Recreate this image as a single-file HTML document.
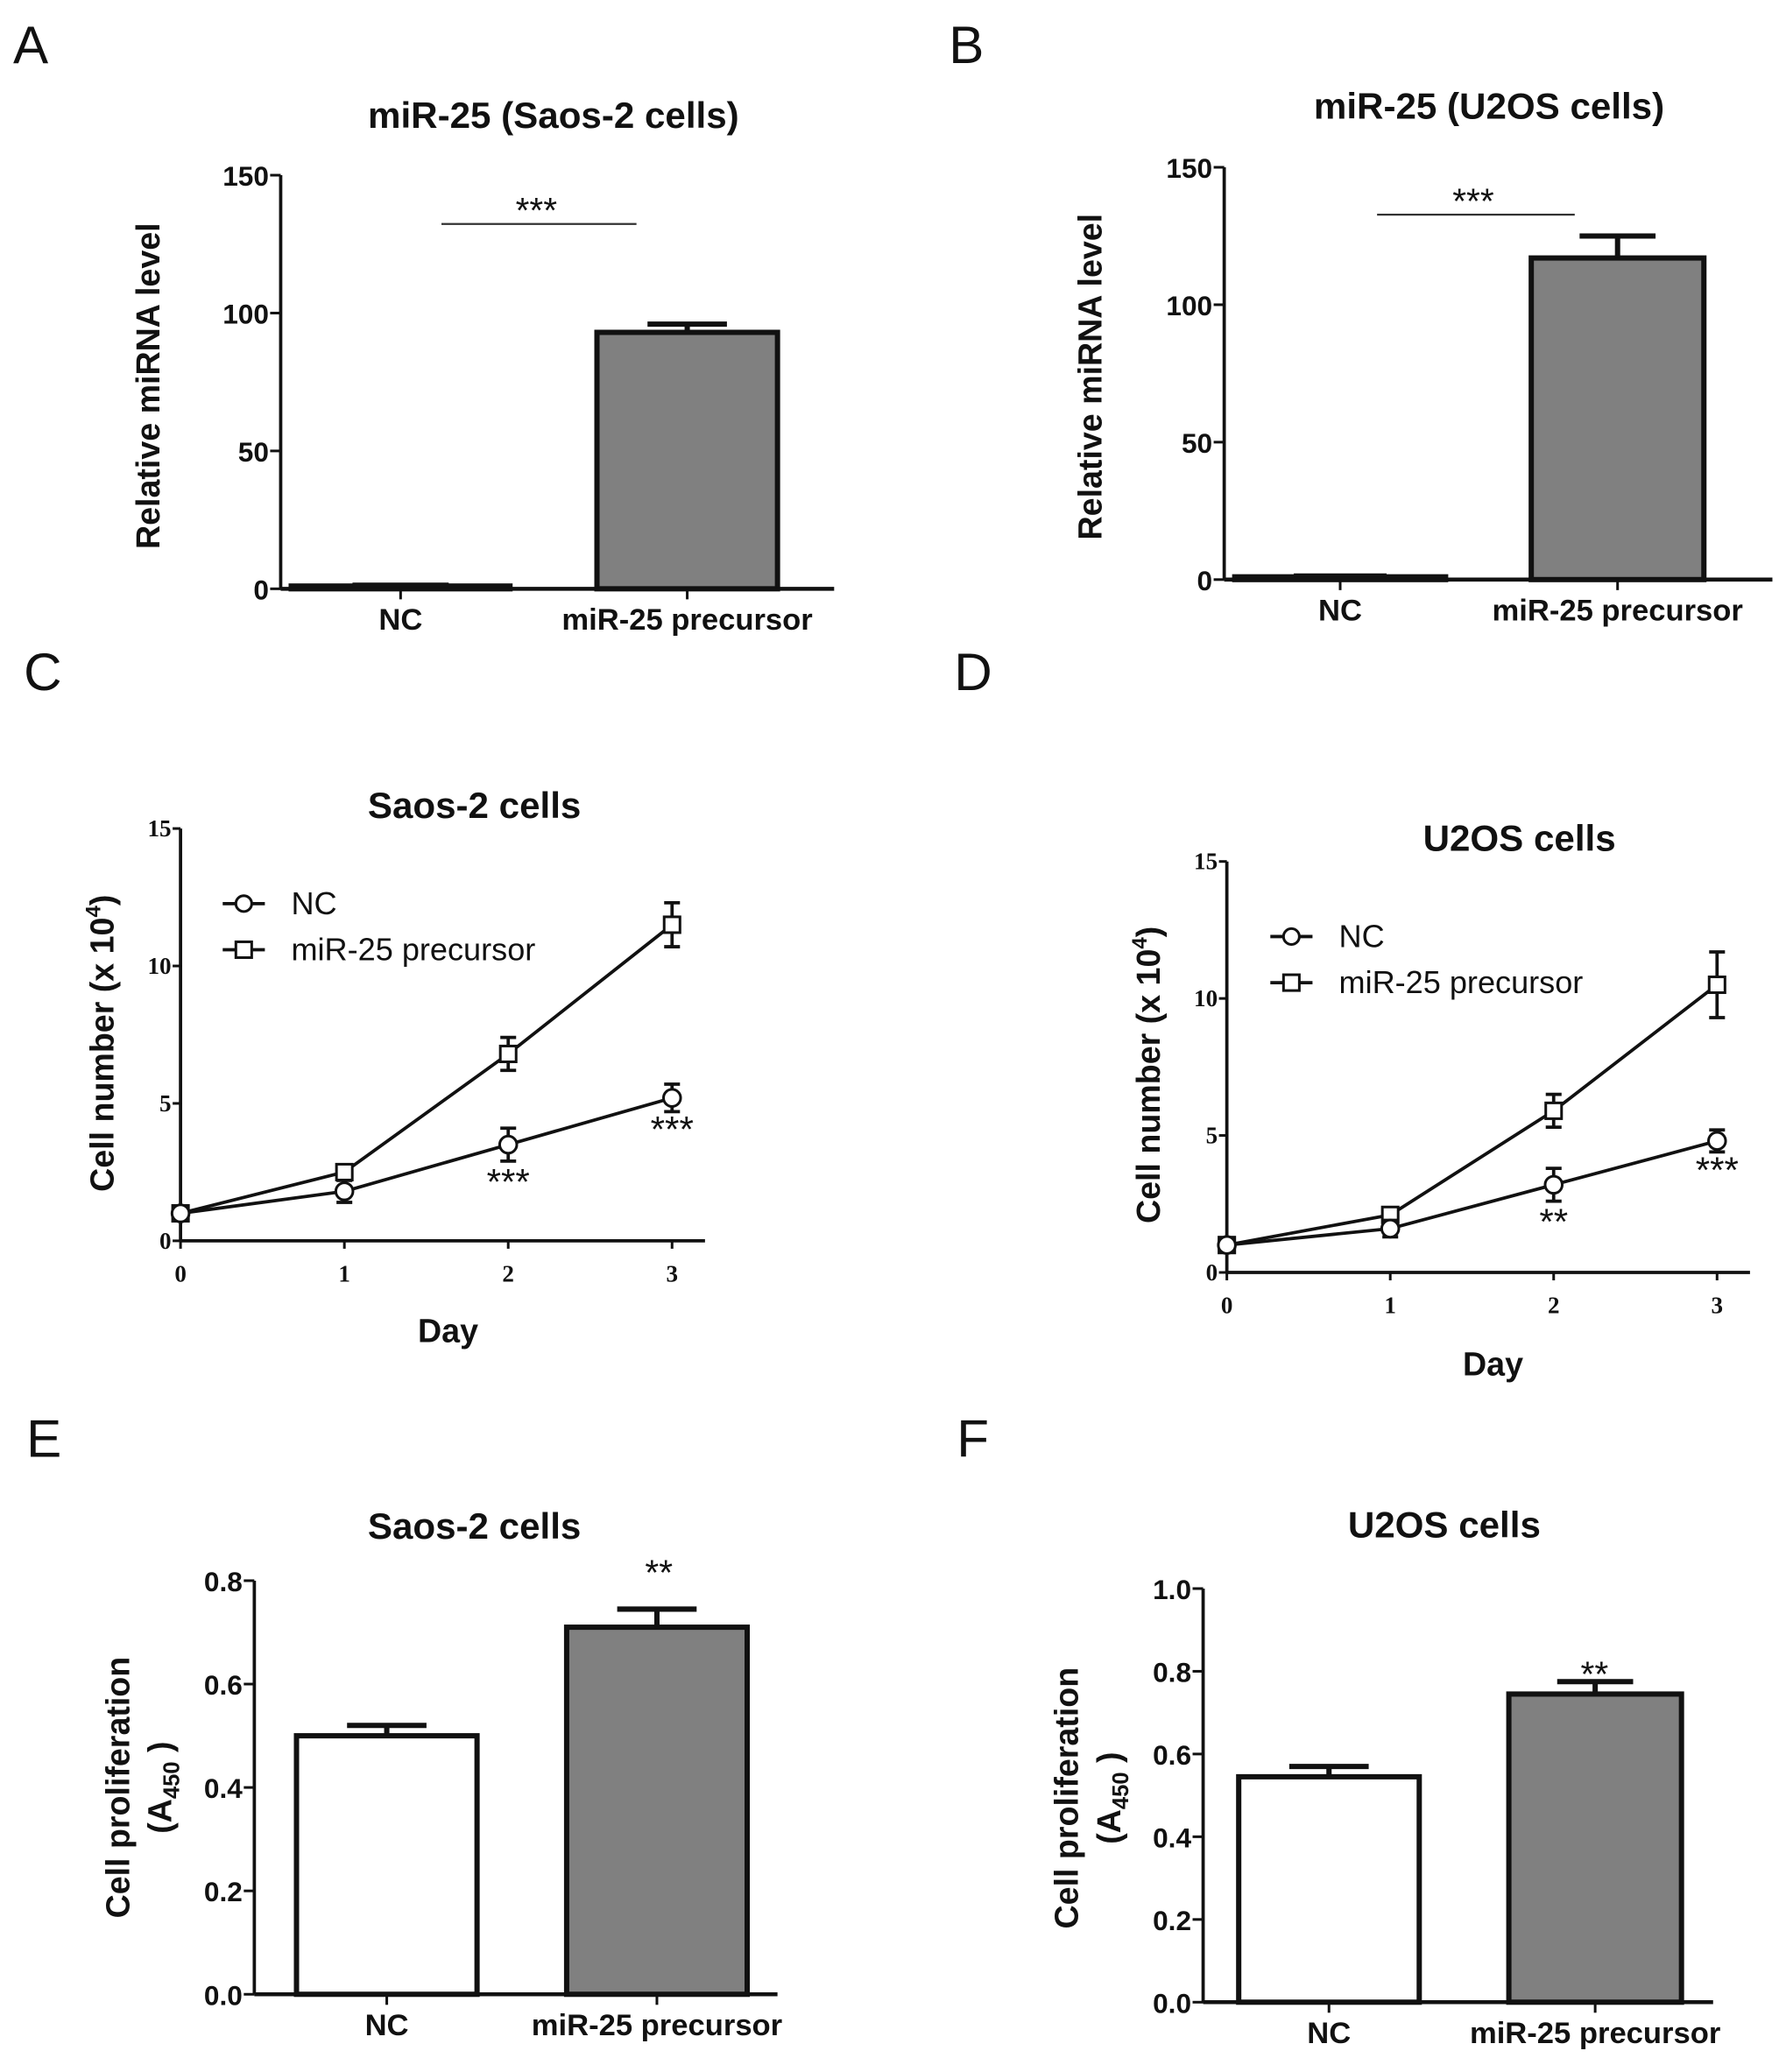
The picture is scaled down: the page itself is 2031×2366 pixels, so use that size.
<!DOCTYPE html>
<html><head><meta charset="utf-8"><style>
html,body{margin:0;padding:0;background:#fff;}
svg{display:block;}
text{font-family:"Liberation Sans",Arial,sans-serif;fill:#111;}
.bold{font-weight:bold;}
.serif{font-family:"Liberation Serif",serif;font-weight:bold;}
</style></head><body>
<svg id="fig" width="2031" height="2366" viewBox="0 0 1350 1573" preserveAspectRatio="none" xmlns="http://www.w3.org/2000/svg"></svg>
<script>
// Panel A data
const aCategories = ["NC", "miR-25 precursor"];
const aValues = [1, 93];
const aErrors = [0.3, 3];
const aTicks = [0, 50, 100, 150];
// Panel B data
const bCategories = ["NC", "miR-25 precursor"];
const bValues = [1, 117];
const bErrors = [0.3, 8];
const bTicks = [0, 50, 100, 150];
// Panel C data
const cDays = [0, 1, 2, 3];
const cNC = [1, 1.8, 3.5, 5.2];
const cNCErr = [0.1, 0.4, 0.6, 0.5];
const cMiR = [1, 2.5, 6.8, 11.5];
const cMiRErr = [0.1, 0.2, 0.6, 0.8];
const cTicks = [0, 5, 10, 15];
// Panel D data
const dDays = [0, 1, 2, 3];
const dNC = [1, 1.6, 3.2, 4.8];
const dNCErr = [0.1, 0.3, 0.6, 0.4];
const dMiR = [1, 2.1, 5.9, 10.5];
const dMiRErr = [0.1, 0.2, 0.6, 1.2];
const dTicks = [0, 5, 10, 15];
// Panel E data
const eCategories = ["NC", "miR-25 precursor"];
const eValues = [0.5, 0.71];
const eErrors = [0.02, 0.035];
const eTicks = [0, 0.2, 0.4, 0.6, 0.8];
// Panel F data
const fCategories = ["NC", "miR-25 precursor"];
const fValues = [0.545, 0.745];
const fErrors = [0.025, 0.03];
const fTicks = [0, 0.2, 0.4, 0.6, 0.8, 1.0];

const NS = "http://www.w3.org/2000/svg";
const svg = document.getElementById("fig");
function el(tag, attrs, parent, txt) {
  const e = document.createElementNS(NS, tag);
  for (const k in attrs) e.setAttribute(k, attrs[k]);
  if (txt !== undefined) e.textContent = txt;
  (parent || svg).appendChild(e);
  return e;
}
function letter(t, x, y) {
  const e = el("text", {x: x, y: y, "font-size": 40, "font-weight": "normal"}, svg, t);
  
  
}

function barPanel(id, cfg) {
  const g = el("g", {});
  
  
  const yS = v => cfg.y0 - (v - cfg.vmin) / (cfg.vmax - cfg.vmin) * (cfg.y0 - cfg.y1);
  const t = el("text", {x: cfg.titleX, y: cfg.titleY, "font-size": 28, "text-anchor": "middle", class: "bold"}, g, cfg.title);
  
  
  cfg.values.forEach((v, i) => {
    const bx = cfg.barX[i][0], bw = cfg.barX[i][1] - cfg.barX[i][0];
    const top = yS(v);
    const r = el("rect", {x: bx, y: top, width: bw, height: cfg.y0 - top, fill: cfg.fills[i], stroke: "#111", "stroke-width": 4}, g);
    
    
    const cx = bx + bw / 2;
    const ey = yS(v + cfg.errors[i]);
    const eb = el("path", {d: `M${cx},${top} V${ey} M${cx - bw * 0.22},${ey} H${cx + bw * 0.22}`, stroke: "#111", "stroke-width": 4, fill: "none"}, g);
    
    
    const tk = el("line", {x1: cx, x2: cx, y1: cfg.y0, y2: cfg.y0 + 8, stroke: "#111", "stroke-width": 2}, g);
    
    
    const lb = el("text", {x: cx, y: cfg.y0 + 31, "font-size": 23, "text-anchor": "middle", class: "bold"}, g, cfg.categories[i]);
    
    
  });
  const ya = el("line", {x1: cfg.ax, x2: cfg.ax, y1: cfg.y1, y2: cfg.y0, stroke: "#111", "stroke-width": 2.5}, g);
  
  
  const xa = el("line", {x1: cfg.ax, x2: cfg.xEnd, y1: cfg.y0, y2: cfg.y0, stroke: "#111", "stroke-width": 3}, g);
  
  
  cfg.ticks.forEach(v => {
    const y = yS(v);
    const tk = el("line", {x1: cfg.ax - 8, x2: cfg.ax, y1: y, y2: y, stroke: "#111", "stroke-width": 2}, g);
    
    
    const tl = el("text", {x: cfg.ax - 9, y: y + 8, "font-size": 21, "text-anchor": "end", class: "bold"}, g, cfg.fmt(v));
    
    
  });
  cfg.ylabel.forEach((ln, k) => {
    const yl = el("text", {x: 0, y: 0, "font-size": 25, "text-anchor": "middle", class: "bold", transform: `translate(${cfg.ylx[k]},${cfg.yly}) rotate(-90)`}, g);
    
    
    if (ln === "A450") {
      el("tspan", {}, yl, "(A");
      el("tspan", {"font-size": 17, dy: 6}, yl, "450");
      el("tspan", {dy: -6}, yl, " )");
    } else yl.textContent = ln;
  });
  if (cfg.sigLine) {
    const sl = el("line", {x1: cfg.sigLine[0], x2: cfg.sigLine[1], y1: cfg.sigLine[2], y2: cfg.sigLine[2], stroke: "#333", "stroke-width": 1.5}, g);
    
    
  }
  const s = el("text", {x: cfg.sig[0], y: cfg.sig[1], "font-size": 27, "text-anchor": "middle"}, g, cfg.sig[2]);
  
  
}

function linePanel(id, cfg) {
  const g = el("g", {});
  
  
  const yS = v => cfg.y0 - v / 15 * (cfg.y0 - cfg.y1);
  const xS = d => cfg.ax + d / 3 * (cfg.x3 - cfg.ax);
  const t = el("text", {x: cfg.titleX, y: cfg.titleY, "font-size": 28, "text-anchor": "middle", class: "bold"}, g, cfg.title);
  
  
  const ya = el("line", {x1: cfg.ax, x2: cfg.ax, y1: cfg.y1, y2: cfg.y0, stroke: "#111", "stroke-width": 2.5}, g);
  
  
  const xa = el("line", {x1: cfg.ax, x2: cfg.xEnd, y1: cfg.y0, y2: cfg.y0, stroke: "#111", "stroke-width": 2.5}, g);
  
  
  cfg.ticks.forEach(v => {
    const y = yS(v);
    const tk = el("line", {x1: cfg.ax - 6, x2: cfg.ax, y1: y, y2: y, stroke: "#111", "stroke-width": 2}, g);
    
    
    const tl = el("text", {x: cfg.ax - 7, y: y + 6, "font-size": 18, "text-anchor": "end", class: "serif"}, g, String(v));
    
    
  });
  cfg.days.forEach(d => {
    const x = xS(d);
    const tk = el("line", {x1: x, x2: x, y1: cfg.y0, y2: cfg.y0 + 6, stroke: "#111", "stroke-width": 2}, g);
    
    
    const tl = el("text", {x: x, y: cfg.y0 + 31, "font-size": 18, "text-anchor": "middle", class: "serif"}, g, String(d));
    
    
  });
  const xt = el("text", {x: cfg.dayX, y: cfg.dayY, "font-size": 25, "text-anchor": "middle", class: "bold"}, g, "Day");
  
  
  const yl = el("text", {x: 0, y: 0, "font-size": 25, "text-anchor": "middle", class: "bold", transform: `translate(${cfg.ylx},${cfg.yly}) rotate(-90)`}, g);
  
  
  el("tspan", {}, yl, "Cell  number  (x 10");
  el("tspan", {"font-size": 16, dy: -10}, yl, "4");
  el("tspan", {dy: 10}, yl, ")");
  const series = [[cfg.miR, cfg.miRErr, "square", "mir-25-precursor"], [cfg.nc, cfg.ncErr, "circle", "nc"]];
  series.forEach(([vals, errs, shape, nm]) => {
    const pts = vals.map((v, i) => xS(cfg.days[i]) + "," + yS(v)).join(" ");
    const pl = el("polyline", {points: pts, fill: "none", stroke: "#111", "stroke-width": 2.5}, g);
    
    
    vals.forEach((v, i) => {
      const x = xS(cfg.days[i]), y = yS(v);
      const yt = yS(v + errs[i]), yb = yS(v - errs[i]);
      const eb = el("path", {d: `M${x},${yt} V${yb} M${x - 6},${yt} H${x + 6} M${x - 6},${yb} H${x + 6}`, stroke: "#111", "stroke-width": 2.5, fill: "none"}, g);
      
      
      let m;
      if (shape === "square") m = el("rect", {x: x - 6, y: y - 6, width: 12, height: 12, fill: "#fff", stroke: "#111", "stroke-width": 2}, g);
      else m = el("circle", {cx: x, cy: y, r: 6.5, fill: "#fff", stroke: "#111", "stroke-width": 2}, g);
      
      
    });
  });
  [["NC", "circle", cfg.legY[0]], ["miR-25 precursor", "square", cfg.legY[1]]].forEach(([lab, shape, ly]) => {
    const lx = cfg.legX;
    const lg = el("g", {}, g);
    
    
    el("line", {x1: lx - 16, x2: lx + 16, y1: ly, y2: ly, stroke: "#111", "stroke-width": 2.5}, lg);
    if (shape === "square") el("rect", {x: lx - 6, y: ly - 6, width: 12, height: 12, fill: "#fff", stroke: "#111", "stroke-width": 2}, lg);
    else el("circle", {cx: lx, cy: ly, r: 6, fill: "#fff", stroke: "#111", "stroke-width": 2}, lg);
    el("text", {x: lx + 36, y: ly + 8, "font-size": 24}, lg, lab);
  });
  cfg.sigs.forEach(s => {
    const st = el("text", {x: xS(s[0]), y: s[1], "font-size": 28, "text-anchor": "middle"}, g, s[2]);
    
    
  });
}

letter("A", 10, 48); letter("B", 720, 48);
letter("C", 18, 524); letter("D", 724, 524);
letter("E", 20, 1106); letter("F", 726, 1106);

const intFmt = v => String(v);
const decFmt = v => v.toFixed(1);
barPanel("a", {title: "miR-25 (Saos-2  cells)", titleX: 420, titleY: 97, ax: 213, xEnd: 633, y0: 447, y1: 133, vmin: 0, vmax: 150,
  values: aValues, errors: aErrors, categories: aCategories, ticks: aTicks, fmt: intFmt,
  barX: [[221, 387], [453, 590]], fills: ["#fff", "#808080"], ylabel: ["Relative miRNA level"], ylx: [121], yly: 293,
  sigLine: [335, 483, 170], sig: [407, 169, "***"]});
barPanel("b", {title: "miR-25 (U2OS  cells)", titleX: 1130, titleY: 90, ax: 929, xEnd: 1345, y0: 440, y1: 127, vmin: 0, vmax: 150,
  values: bValues, errors: bErrors, categories: bCategories, ticks: bTicks, fmt: intFmt,
  barX: [[937, 1097], [1162, 1293]], fills: ["#fff", "#808080"], ylabel: ["Relative miRNA level"], ylx: [836], yly: 286,
  sigLine: [1045, 1195, 163], sig: [1118, 162, "***"]});
linePanel("c", {title: "Saos-2 cells", titleX: 360, titleY: 621, ax: 137, x3: 510, xEnd: 535, y0: 942, y1: 629,
  days: cDays, nc: cNC, ncErr: cNCErr, miR: cMiR, miRErr: cMiRErr, ticks: cTicks,
  dayX: 340, dayY: 1019, ylx: 86, yly: 792, legX: 185, legY: [686, 721],
  sigs: [[2, 907, "***"], [3, 867, "***"]]});
linePanel("d", {title: "U2OS cells", titleX: 1153, titleY: 646, ax: 931, x3: 1303, xEnd: 1328, y0: 966, y1: 654,
  days: dDays, nc: dNC, ncErr: dNCErr, miR: dMiR, miRErr: dMiRErr, ticks: dTicks,
  dayX: 1133, dayY: 1044, ylx: 880, yly: 816, legX: 980, legY: [711, 746],
  sigs: [[2, 937, "**"], [3, 898, "***"]]});
barPanel("e", {title: "Saos-2 cells", titleX: 360, titleY: 1168, ax: 193, xEnd: 590, y0: 1514, y1: 1200, vmin: 0, vmax: 0.8,
  values: eValues, errors: eErrors, categories: eCategories, ticks: eTicks, fmt: decFmt,
  barX: [[225, 362], [430, 567]], fills: ["#fff", "#808080"], ylabel: ["Cell proliferation", "A450"], ylx: [98, 130], yly: 1357,
  sigLine: null, sig: [500, 1203, "**"]});
barPanel("f", {title: "U2OS cells", titleX: 1096, titleY: 1167, ax: 913, xEnd: 1300, y0: 1520, y1: 1206, vmin: 0, vmax: 1.0,
  values: fValues, errors: fErrors, categories: fCategories, ticks: fTicks, fmt: decFmt,
  barX: [[940, 1077], [1145, 1276]], fills: ["#fff", "#808080"], ylabel: ["Cell proliferation", "A450"], ylx: [818, 850], yly: 1365,
  sigLine: null, sig: [1210, 1280, "**"]});
</script>
</body></html>
